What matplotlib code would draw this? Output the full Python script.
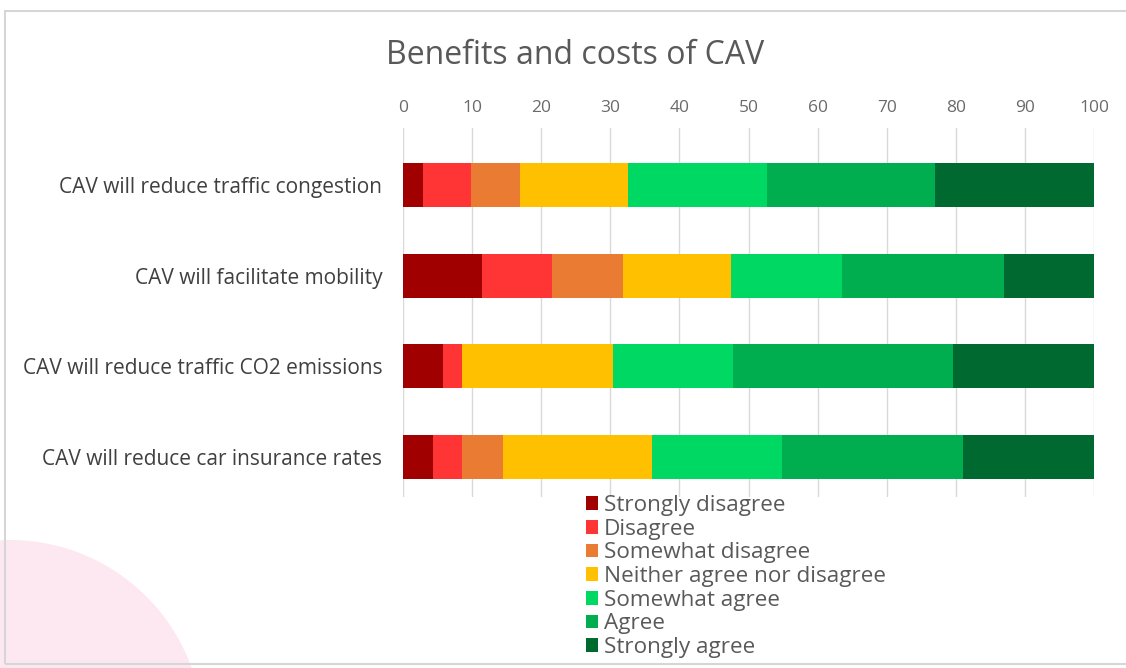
import numpy as np
import matplotlib.pyplot as plt
from matplotlib.patches import Circle, Rectangle

statements = ["CAV will reduce traffic congestion",
              "CAV will facilitate mobility",
              "CAV will reduce traffic CO2 emissions",
              "CAV will reduce car insurance rates"]

levels = ["Strongly disagree", "Disagree", "Somewhat disagree",
          "Neither agree nor disagree", "Somewhat agree", "Agree", "Strongly agree"]

strongly_disagree = [2.9, 11.5, 5.8, 4.3]
disagree = [6.9, 10.0, 2.8, 4.3]
somewhat_disagree = [7.1, 10.3, 0.0, 5.8]
neither = [15.7, 15.7, 21.8, 21.7]
somewhat_agree = [20.1, 16.1, 17.4, 18.8]
agree = [24.3, 23.4, 31.8, 26.1]
strongly_agree = [23.2, 13.0, 20.4, 19.0]

colors = ["#a00000", "#ff3535", "#e97b33", "#ffc000", "#00d864", "#00ae4f", "#006930"]

plt.rcParams['font.family'] = ['Open Sans', 'DejaVu Sans']

fig = plt.figure(figsize=(11.26, 6.68), dpi=100)

# background decoration: pink circle (inches) and faint frame
fig.patches.append(Circle((0.10, -0.65), 1.93, transform=fig.dpi_scale_trans,
                          facecolor="#fde8f1", edgecolor="none", zorder=0))
fig.patches.append(Rectangle((5 / 1126, 4 / 668), 1.2, 1 - 15 / 668, transform=fig.transFigure,
                             facecolor="none", edgecolor="#d6d6d6", linewidth=1.5, zorder=1))

ax = fig.add_axes([403 / 1126, 1 - 497 / 668, 691 / 1126, 369 / 668])
ax.patch.set_alpha(0)

series = [strongly_disagree, disagree, somewhat_disagree, neither,
          somewhat_agree, agree, strongly_agree]
y = np.arange(len(statements))
left = np.zeros(len(statements))
for name, vals, c in zip(levels, series, colors):
    ax.barh(y, vals, left=left, height=0.485, color=c, label=name, zorder=3)
    left += np.array(vals)

ax.set_xlim(0, 100)
ax.set_ylim(3.44, -0.63)
ax.set_xticks(range(0, 101, 10))
ax.xaxis.tick_top()
ax.tick_params(axis='x', length=0, pad=9, labelsize=12.5, labelcolor="#6a6a6a")
ax.tick_params(axis='y', length=0, pad=15, labelsize=15, labelcolor="#404040")
ax.set_yticks(y)
ax.set_yticklabels(statements)
ax.grid(axis='x', color="#d9d9d9", linewidth=1, zorder=0)
for s in ax.spines.values():
    s.set_visible(False)

fig.text(575 / 1126, 1 - 56 / 668, "Benefits and costs of CAV", ha="center", va="center",
         fontsize=23, color="#595959")

fig.legend(loc="upper left", bbox_to_anchor=(586 / 1126, 1 - 495 / 668), frameon=False,
           fontsize=16.2, labelcolor="#595959", handlelength=0.55, handleheight=0.55,
           handletextpad=0.25, labelspacing=0.12, borderpad=0, borderaxespad=0)

fig.savefig("out.png", dpi=100)
